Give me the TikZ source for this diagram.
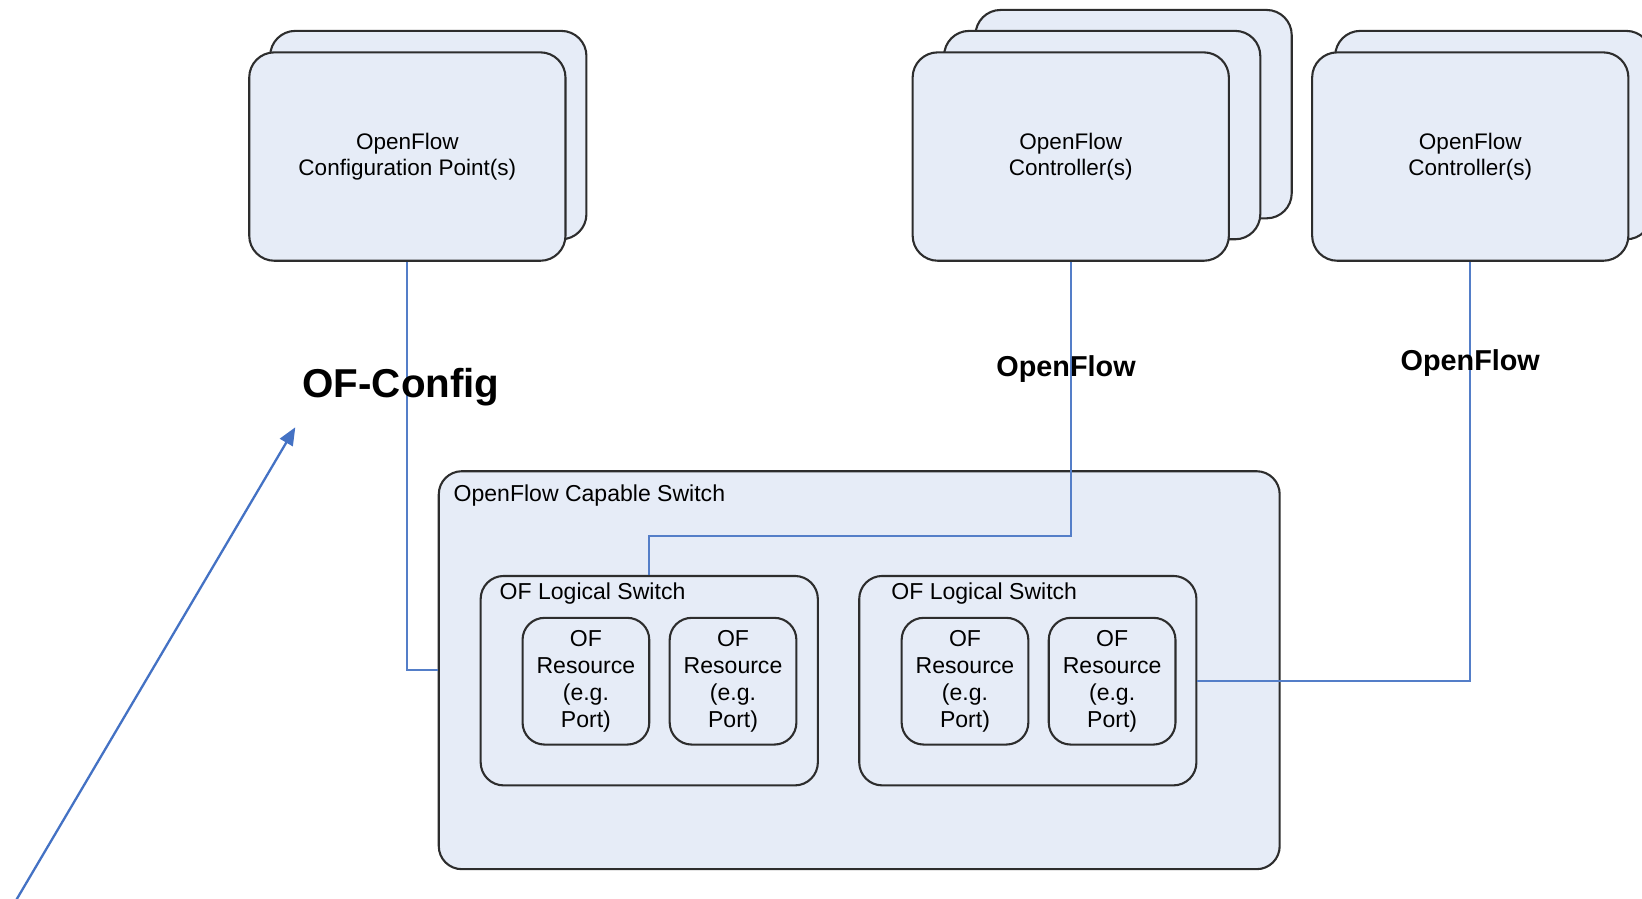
\documentclass[tikz,border=0pt]{standalone}
\usepackage{fontspec}
\setmainfont{Liberation Sans}
\usetikzlibrary{arrows.meta}

\definecolor{boxfill}{RGB}{230,236,247}
\definecolor{boxline}{RGB}{45,45,45}
\definecolor{link}{RGB}{84,126,200}
\definecolor{arrowblue}{RGB}{68,114,196}

\tikzset{
  box/.style={draw=boxline, fill=boxfill, line width=2pt, inner sep=0pt},
  bigbox/.style={box, rounded corners=24pt, minimum width=302pt, minimum height=199pt,
    align=center, font=\fontsize{21.5}{25}\selectfont},
  switchbox/.style={box, rounded corners=22pt},
  lsbox/.style={box, rounded corners=22pt, minimum width=322pt, minimum height=200pt},
  resbox/.style={box, rounded corners=21pt, minimum width=121pt, minimum height=121pt,
    align=center, font=\fontsize{22}{26}\selectfont},
  boxlabel/.style={anchor=west, inner sep=0pt, font=\fontsize{22}{26}\selectfont},
  proto/.style={inner sep=0pt, font=\bfseries\fontsize{27.5}{32}\selectfont},
  link/.style={draw=link, line width=2pt},
}

\begin{document}
\begin{tikzpicture}[x=1pt, y=-1pt]
  \useasboundingbox (0,0) rectangle (1568,858);
  \clip (0,0) rectangle (1568,858);

  % configuration point stack
  \node[bigbox] (cfgback) at (409,129) {};
  \node[bigbox] (cfg) at (389,149.5) {OpenFlow\\Configuration Point(s)};

  % first controller stack
  \node[bigbox] (ctrlAback2) at (1082.5,109) {};
  \node[bigbox] (ctrlAback1) at (1052.5,129) {};
  \node[bigbox] (ctrlA) at (1022.5,149.5) {OpenFlow\\Controller(s)};

  % second controller stack
  \node[bigbox] (ctrlBback) at (1426,129) {};
  \node[bigbox] (ctrlB) at (1404,149.5) {OpenFlow\\Controller(s)};

  % capable switch
  \node[switchbox, minimum width=803pt, minimum height=380pt] (sw) at (820.5,640) {};
  \node[boxlabel] (swlabel) at (433,473) {OpenFlow Capable Switch};

  % logical switches
  \node[lsbox] (ls1) at (620,650) {};
  \node[boxlabel] (ls1label) at (477,567) {OF Logical Switch};
  \node[lsbox] (ls2) at (981.5,650) {};
  \node[boxlabel] (ls2label) at (851,567) {OF Logical Switch};

  % resources
  \node[resbox] (r1) at (559.5,650.5) {OF\\Resource\\(e.g.\\Port)};
  \node[resbox] (r2) at (700,650.5) {OF\\Resource\\(e.g.\\Port)};
  \node[resbox] (r3) at (921.5,650.5) {OF\\Resource\\(e.g.\\Port)};
  \node[resbox] (r4) at (1062,650.5) {OF\\Resource\\(e.g.\\Port)};

  % protocol connections
  \draw[link] (cfg.south) |- (sw.west);
  \draw[link] (ctrlA.south) -- (ctrlA.south |- 0,512) -| (ls1.north);
  \draw[link] (ctrlB.south) |- (ls2.east);

  % protocol names
  \node[proto, font=\bfseries\fontsize{38.5}{44}\selectfont] (ofconfig) at (383,370) {OF-Config};
  \node[proto] (of1) at (1018,352) {OpenFlow};
  \node[proto] (of2) at (1404,347) {OpenFlow};

  % pointer
  \coordinate (ptail) at (14,862);
  \coordinate (phead) at (282,408);
  \draw[draw=arrowblue, line width=2.2pt, -{Triangle[length=17pt,width=14pt]}] (ptail) -- (phead);
\end{tikzpicture}
\end{document}
